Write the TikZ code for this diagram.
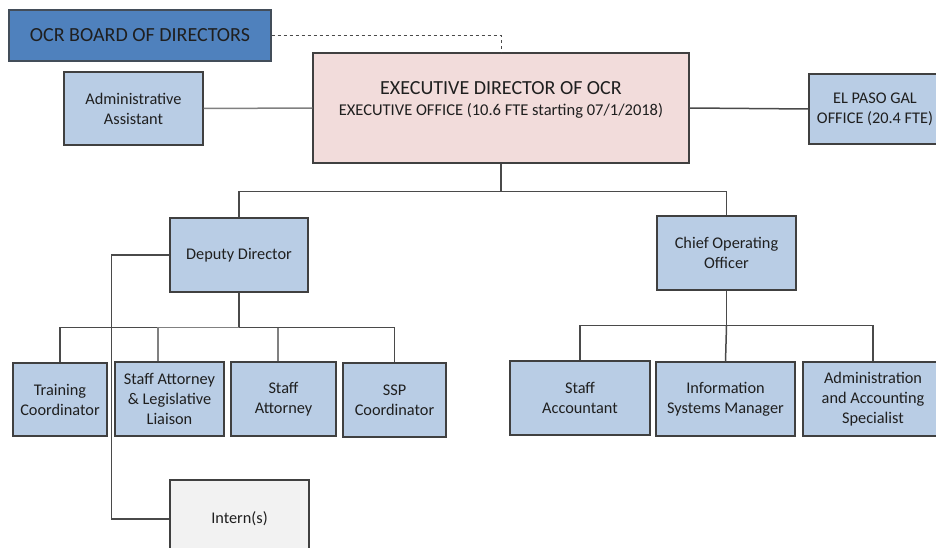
\documentclass[tikz,border=0pt]{standalone}
\usepackage{fontspec}
\setmainfont{Carlito}
\definecolor{boardblue}{HTML}{4F81BD}
\definecolor{paleblue}{HTML}{B9CDE5}
\definecolor{palepink}{HTML}{F2DCDB}
\definecolor{palegray}{HTML}{F2F2F2}
\definecolor{edge}{HTML}{404040}
\definecolor{wire}{HTML}{4A4A4A}
\begin{document}
\begin{tikzpicture}[x=1pt, y=-1pt,
  box/.style={draw=edge, line width=1.4pt, fill=paleblue, align=center, inner sep=0pt,
    text=black!88, font=\fontsize{16.3}{20}\selectfont},
  wires/.style={draw=wire, line width=1.5pt}]
  \useasboundingbox (0,0) rectangle (936,548);

  \node[box, fill=boardblue, draw=edge!80!boardblue, minimum width=262pt, minimum height=51pt,
    font=\fontsize{20}{24}\selectfont] (board) at (140, 35.5) {OCR BOARD OF DIRECTORS};
  \node[box, minimum width=139pt, minimum height=73pt] (admin) at (133.5, 108.5) {Administrative\\Assistant};
  \node[box, fill=palepink, minimum width=376pt, minimum height=110pt] (exec) at (501, 108) {};
  \node[align=center, text=black!88, inner sep=0pt, font=\fontsize{20}{21}\selectfont] (exectext) at (501, 100)
    {EXECUTIVE DIRECTOR OF OCR\\{\fontsize{16.5}{21}\selectfont EXECUTIVE OFFICE (10.6 FTE starting 07/1/2018)}};
  \node[box, minimum width=132pt, minimum height=70pt] (elpaso) at (875, 109) {EL PASO GAL\\OFFICE (20.4 FTE)};

  \node[box, minimum width=138pt, minimum height=74pt] (deputy) at (239, 255) {Deputy Director};
  \node[box, minimum width=139pt, minimum height=74pt] (coo) at (726.5, 253) {Chief Operating\\Officer};

  \node[box, minimum width=94pt, minimum height=73pt] (train) at (60, 399.5) {Training\\Coordinator};
  \node[box, minimum width=109pt, minimum height=74pt] (liaison) at (169.5, 399) {Staff Attorney\\\& Legislative\\Liaison};
  \node[box, minimum width=105pt, minimum height=74pt] (attorney) at (283.5, 399) {Staff\\Attorney};
  \node[box, minimum width=103pt, minimum height=74pt] (ssp) at (394.5, 400) {SSP\\Coordinator};
  \node[box, fill=palegray, minimum width=139pt, minimum height=78pt] (intern) at (239.5, 519) {Intern(s)};

  \node[box, minimum width=140pt, minimum height=74pt] (accountant) at (580, 398) {Staff\\Accountant};
  \node[box, minimum width=139pt, minimum height=74pt] (ism) at (725.5, 399) {Information\\Systems Manager};
  \node[box, minimum width=140pt, minimum height=74pt] (specialist) at (873, 399) {Administration\\and Accounting\\Specialist};

  % lines
  \draw[wires, dashed, line width=1pt] (board.east) -| (exec.north);
  \draw[wires, draw=wire!70] (admin.east) -- (exec.west);
  \draw[wires] (exec.east) -- (elpaso.west);
  \draw[wires] (exec.south) -- ++(0, 28) coordinate (top);
  \draw[wires] (top) -| (deputy.north);
  \draw[wires] (top) -| (coo.north);

  \draw[wires] (deputy.south) -- ++(0, 35) coordinate (dep);
  \draw[wires] (dep) -| (train.north);
  \draw[wires, draw=wire!70] (dep) -| ([xshift=-11.5pt]liaison.north);
  \draw[wires, draw=wire!70] (dep) -| ([xshift=-5.5pt]attorney.north);
  \draw[wires] (dep) -| (ssp.north);
  \draw[wires] (deputy.west) -- ++(-58, 0) |- (intern.west);

  \draw[wires] (coo.south) -- ++(0, 35) coordinate (ops);
  \draw[wires] (ops) -| (accountant.north);
  \draw[wires] (ops) -- (ism.north);
  \draw[wires] (ops) -| (specialist.north);
\end{tikzpicture}
\end{document}
